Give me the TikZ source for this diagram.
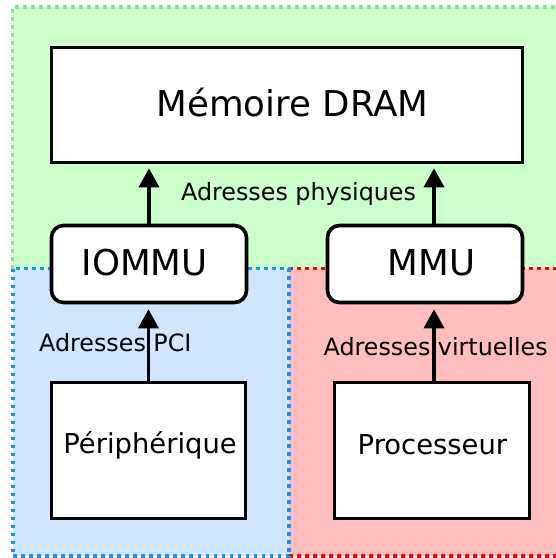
\documentclass[tikz,border=0pt]{standalone}
\usepackage{fontspec}
\setmainfont{DejaVu Sans}
\usetikzlibrary{arrows.meta}

\definecolor{zonegreen}{RGB}{204,255,204}
\definecolor{edgegreen}{RGB}{140,232,140}
\definecolor{zoneblue}{RGB}{208,230,255}
\definecolor{edgeblue}{RGB}{30,144,255}
\definecolor{zonered}{RGB}{255,190,190}
\definecolor{edgered}{RGB}{255,0,0}

\tikzset{
  zoneedge/.style={line width=3.6pt, dash pattern=on 3.6pt off 4.4pt},
  box/.style={draw, line width=3.6pt, fill=white, inner sep=0pt},
  unitbox/.style={box, rounded corners=12pt},
  bigtext/.style={anchor=base west, inner sep=0pt, font=\fontsize{35.6}{42}\selectfont},
  midtext/.style={anchor=base west, inner sep=0pt, font=\fontsize{27.4}{32}\selectfont},
  smalltext/.style={anchor=base west, inner sep=0pt, font=\fontsize{23.8}{28}\selectfont},
  arr/.style={line width=3.6pt, -{Triangle[length=19pt,width=20pt]}}
}

\begin{document}
\begin{tikzpicture}[x=1pt,y=-1pt]
  \useasboundingbox (0,0) rectangle (556,558);
  \clip (0,0) rectangle (556,558);

  % address zones
  \fill[zonegreen] (12.5,7) rectangle (620,268.5);
  \draw[zoneedge, edgegreen] (12.5,268.5) -- (12.5,7) -- (620,7);
  \fill[zonered] (289,268.5) rectangle (620,556);
  \draw[zoneedge, edgered] (289,268.5) -- (620,268.5);
  \draw[zoneedge, edgered] (289,556) -- (620,556);
  \fill[zoneblue] (13,268.5) rectangle (289,556);
  \draw[zoneedge, edgeblue] (13,268.5) rectangle (289,556);

  % components
  \node[box, minimum width=471pt, minimum height=115pt] (mem) at (287,105) {};
  \node[unitbox, minimum width=195pt, minimum height=77pt] (iommu) at (149,264) {};
  \node[unitbox, minimum width=195pt, minimum height=77pt] (mmu) at (425,264) {};
  \node[box, minimum width=194pt, minimum height=136pt] (periph) at (148.5,450.5) {};
  \node[box, minimum width=195pt, minimum height=136pt] (cpu) at (432,450.5) {};

  % component names
  \node[bigtext] (memname) at (156.4,116.7) {Mémoire DRAM};
  \node[bigtext] (iommuname) at (81.3,275.5) {IOMMU};
  \node[bigtext] (mmuname) at (387.4,275.5) {MMU};
  \node[midtext] (periphname) at (63.2,453.7) {Périphérique};
  \node[midtext] (cpuname) at (357.5,454.7) {Processeur};

  % translations
  \draw[arr, shorten >=4pt] (iommu.north) -- (iommu.north |- mem.south);
  \draw[arr, shorten >=4pt] ([xshift=9pt]mmu.north) -- ([xshift=9pt]mmu.north |- mem.south);
  \draw[arr, shorten >=5pt] (periph.north) -- (periph.north |- iommu.south);
  \draw[arr, shorten >=5pt] ([xshift=2pt]cpu.north) -- ([xshift=2pt]cpu.north |- mmu.south);

  % address labels
  \node[smalltext] (physlabel) at (181,200) {Adresses physiques};
  \node[smalltext] (pcilabel) at (39,351) {Adresses PCI};
  \node[smalltext] (virtlabel) at (323.5,355.3) {Adresses virtuelles};
\end{tikzpicture}
\end{document}
